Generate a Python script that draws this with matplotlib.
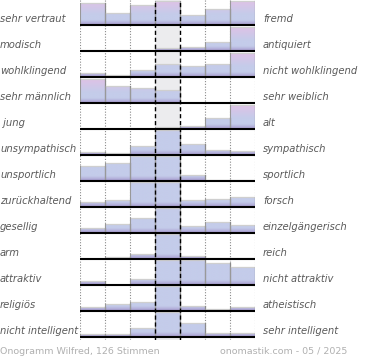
import numpy as np
import matplotlib
matplotlib.use("Agg")
import matplotlib.pyplot as plt
from matplotlib.path import Path
from matplotlib.patches import PathPatch

# semantic differential pairs
left_labels = ["sehr vertraut", "modisch", "wohlklingend", "sehr männlich", " jung",
               "unsympathisch", "unsportlich", "zurückhaltend", "gesellig", "arm",
               "attraktiv", "religiös", "nicht intelligent"]
right_labels = ["fremd", "antiquiert", "nicht wohlklingend", "sehr weiblich", "alt",
                "sympathisch", "sportlich", "forsch", "einzelgängerisch", "reich",
                "nicht attraktiv", "atheistisch", "sehr intelligent"]

# relative bar heights per row (1.0 = full row, >1 runs out of the row)
values = [
    [0.90, 0.51, 0.82, 1.00, 0.40, 0.68, 1.00],
    [0.00, 0.00, 0.00, 0.11, 0.15, 0.38, 1.00],
    [0.15, 0.07, 0.28, 0.54, 0.47, 0.53, 1.00],
    [1.00, 0.70, 0.63, 0.54, 0.00, 0.00, 0.00],
    [0.00, 0.00, 0.00, 0.10, 0.14, 0.44, 1.00],
    [0.14, 0.10, 0.39, 2.00, 0.45, 0.22, 0.18],
    [0.63, 0.76, 1.60, 2.00, 0.24, 0.04, 0.03],
    [0.22, 0.28, 1.60, 2.00, 0.30, 0.35, 0.40],
    [0.22, 0.36, 0.64, 2.00, 0.29, 0.45, 0.32],
    [0.00, 0.10, 0.20, 2.00, 0.14, 0.04, 0.04],
    [0.17, 0.00, 0.25, 2.00, 1.10, 0.90, 0.76],
    [0.15, 0.29, 0.38, 2.00, 0.19, 0.07, 0.15],
    [0.11, 0.11, 0.39, 2.00, 0.57, 0.18, 0.18],
]

footer_left = "Onogramm Wilfred, 126 Stimmen"
footer_right = "onomastik.com - 05 / 2025"

W, H = 370, 360
ROW = 26          # row pitch in px
FULL = 24         # bar height for value 1.0
TOP = 340         # y of plot top in data units (px from bottom of axes)

fig = plt.figure(figsize=(W / 100, H / 100), dpi=100)
ax = fig.add_axes([80 / W, (H - TOP) / H, 175 / W, TOP / H])
ax.set_xlim(0, 7)
ax.set_ylim(0, TOP)
ax.axis("off")

# neutral middle column
ax.axvspan(3, 4, color="#ececee", zorder=0, lw=0)
for x in [0, 1, 2, 5, 6, 7]:
    ax.axvline(x, color="#8a8a8a", lw=0.8, ls=(0, (1, 1.5)), zorder=1)

blue = np.array([196, 204, 234]) / 255
pink = np.array([222, 194, 230]) / 255
purple = np.array([165, 152, 205]) / 255


def gradient(top):
    ys = np.linspace(0, top, 300)
    t = np.clip((ys / top - 0.45) / 0.55, 0, 1)[:, None]
    col = blue * (1 - t) + pink * t
    band = np.clip(1 - ys / 5.0, 0, 1)[:, None]
    col = col * (1 - band) + purple * band
    return col[:, None, :]


for i, row in enumerate(values):
    base = TOP - 25 - ROW * i
    heights = [min(v * FULL, 25) for v in row]
    gtop = max(row) * FULL
    verts, codes = [], []
    for j, h in enumerate(heights):
        if h <= 0:
            continue
        verts += [(j, base), (j + 1, base), (j + 1, base + h), (j, base + h), (j, base)]
        codes += [Path.MOVETO, Path.LINETO, Path.LINETO, Path.LINETO, Path.CLOSEPOLY]
    if verts:
        patch = PathPatch(Path(verts, codes), facecolor="none", edgecolor="none")
        ax.add_patch(patch)
        im = ax.imshow(gradient(gtop), extent=[0, 7, base, base + gtop], origin="lower",
                       aspect="auto", zorder=2, interpolation="bilinear")
        im.set_clip_path(patch)
    for j, h in enumerate(heights):
        if h <= 0:
            continue
        ax.plot([j, j + 1], [base + h, base + h], color="#cfcfcf", lw=0.9, zorder=3,
                solid_capstyle="butt")
        ax.plot([j, j], [base, base + h], color="#999999", lw=0.8, zorder=3)
        ax.plot([j + 1, j + 1], [base, base + h], color="#8a8a8a", lw=0.9, zorder=3)
    ax.plot([0, 7], [base, base], color="black", lw=1.5, zorder=5, solid_capstyle="butt")

    y_lab = 1 - (25 + ROW * i - 6) / H
    fig.text(0, y_lab, left_labels[i], ha="left", va="center", fontsize=7.2,
             style="italic", color="#5a5a5a")
    fig.text(263 / W, y_lab, right_labels[i], ha="left", va="center", fontsize=7.2,
             style="italic", color="#5a5a5a")

for x in [3, 4]:
    ax.axvline(x, color="black", lw=1.0, ls=(0, (3, 2)), zorder=4)

fig.text(0, 1 - 351 / H, footer_left, ha="left", va="center", fontsize=6.8, color="#b0b0b0")
fig.text(347 / W, 1 - 351 / H, footer_right, ha="right", va="center", fontsize=6.8,
         color="#b0b0b0")

fig.savefig("out.png", dpi=100)
